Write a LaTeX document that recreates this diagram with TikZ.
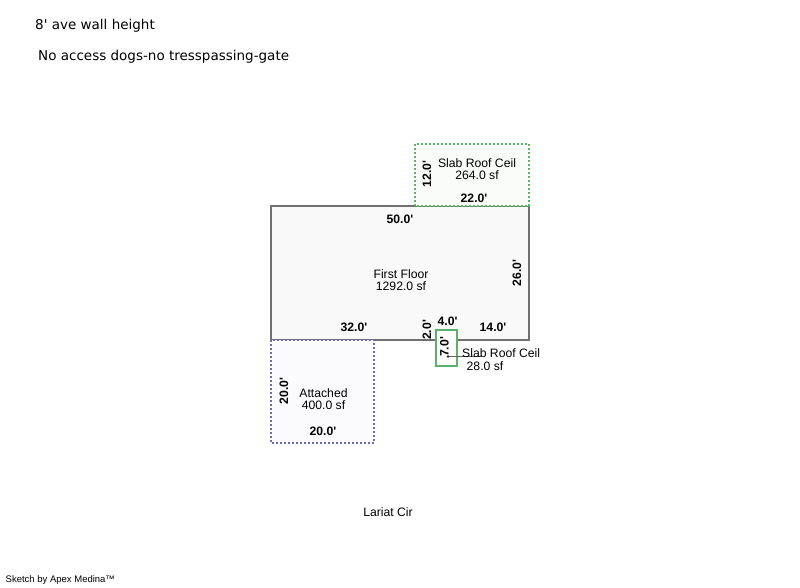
\documentclass[tikz,border=0pt]{standalone}
\usepackage{fontspec}
\setmainfont{Liberation Sans}
\newfontfamily\verd{DejaVu Sans}
\newcommand{\ft}{\textquotesingle}
\definecolor{wallgrey}{HTML}{707070}
\definecolor{dotg}{HTML}{55B865}
\definecolor{dotb}{HTML}{6C68B8}
\definecolor{boxg}{HTML}{5FAF6A}
\tikzset{
 room/.style={line width=1.05pt,draw=wallgrey},
 dotgreen/.style={line width=1.1pt,draw=dotg,dash pattern=on 2pt off 2pt},
 dotblue/.style={line width=1.1pt,draw=dotb,dash pattern=on 2pt off 2pt},
 lbl/.style={inner sep=0pt,align=center,font=\fontsize{12.2}{12.5}\selectfont},
 dim/.style={inner sep=0pt,font=\fontsize{12.2}{12}\selectfont\bfseries},
 note/.style={inner sep=0pt,anchor=west,font=\fontsize{13.5}{14}\verd},
}
\begin{document}
\begin{tikzpicture}[x=1pt,y=-1pt]
\useasboundingbox[fill=white] (0,0) rectangle (800,587);
\fill[black!2.5] (271,206) rectangle (529,340);
\draw[room] (271,206) rectangle (529,340);
\draw[dotgreen,fill=green!50!black!2] (415,144) rectangle (529,206);
\draw[dotblue,fill=blue!2] (271,340) rectangle (374,443);
\draw[line width=1.2pt,draw=boxg,fill=white] (436,330) rectangle (457,366);
\coordinate (leadA) at (448,356.5);
\coordinate (leadB) at (482,356.5);
\draw[line width=1pt,black!60] (leadA) -- (leadB);
\fill[black!85] (leadA) circle (1.4);
\node[note] (n1) at (35,26) {8' ave wall height};
\node[note] (n2) at (38,57) {No access dogs-no tresspassing-gate};
\node[lbl] (t1) at (477,169) {Slab Roof Ceil\\264.0 sf};
\node[lbl] (t2) at (401,280) {First Floor\\1292.0 sf};
\node[lbl] (t3) at (323.5,399) {Attached\\400.0 sf};
\node[lbl,anchor=west] (t4) at (462,353) {Slab Roof Ceil};
\node[lbl,anchor=west] (t5) at (466.5,366) {28.0 sf};
\node[lbl] (lar) at (388,512) {Lariat Cir};
\node[inner sep=0pt,anchor=west,font=\fontsize{9.5}{9.5}\selectfont] (cr) at (5.5,580) {Sketch by Apex Medina™};
\node[dim] (d1) at (474,198.5) {22.0\ft};
\node[dim,rotate=90] (d2) at (427,174) {12.0\ft};
\node[dim] (d3) at (400,219) {50.0\ft};
\node[dim,rotate=90] (d4) at (517,273) {26.0\ft};
\node[dim] (d5) at (354,327.5) {32.0\ft};
\node[dim,rotate=90] (d6) at (427,330) {2.0\ft};
\node[dim] (d7) at (447.5,321.5) {4.0\ft};
\node[dim] (d8) at (493,327.5) {14.0\ft};
\node[dim,rotate=90] (d9) at (444.5,347) {7.0\ft};
\node[dim,rotate=90] (d10) at (284,391) {20.0\ft};
\node[dim] (d11) at (323,431) {20.0\ft};
\end{tikzpicture}
\end{document}
